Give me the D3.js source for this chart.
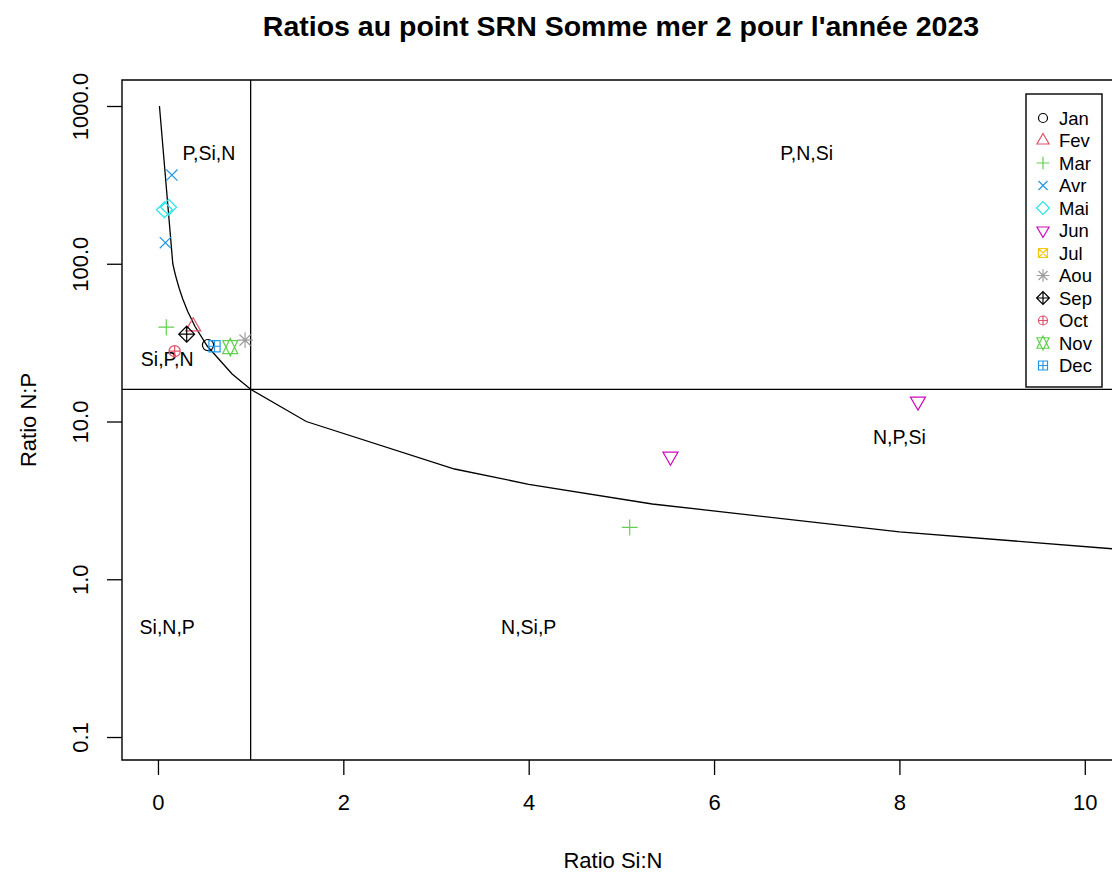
<!DOCTYPE html>
<html>
<head>
<meta charset="utf-8">
<script src="https://cdn.jsdelivr.net/npm/d3@7"></script>
<style>
  body { margin: 0; background: #fff; }
  text { font-family: "Liberation Sans", Arial, sans-serif; fill: #000; }
</style>
</head>
<body>
<svg id="chart" width="1112" height="873"></svg>
<script>
// months, R palette colours and pch codes (1..12)
var months = ["Jan","Fev","Mar","Avr","Mai","Jun","Jul","Aou","Sep","Oct","Nov","Dec"];
var monthColors = ["#000000","#DF536B","#61D04F","#2297E6","#28E2E5","#CD0BBC","#F5C710","#9E9E9E","#000000","#DF536B","#61D04F","#2297E6"];
var monthPch = [1,2,3,4,5,6,7,8,9,10,11,12];

var obsMonth = ["Jan","Fev","Mar","Mar","Avr","Avr","Mai","Mai","Jun","Jun","Aou","Sep","Oct","Nov","Dec"];
var obsSiN   = [0.54, 0.38, 0.09, 5.09, 0.15, 0.08, 0.07, 0.115, 5.53, 8.20, 0.94, 0.31, 0.18, 0.78, 0.61];
var obsNP    = [30.5, 40, 39.6, 2.13, 365, 136, 220, 228, 6.0, 13.4, 32.8, 35.8, 27.9, 29.6, 30];

// limit curve Si:N = 16 / N:P
var curveNP = [1000, 100, 90, 80, 70, 60, 50, 40, 30, 20, 16, 10, 5, 4, 3, 2, 1.5, 1];
var redfieldSiN = 1, redfieldNP = 16;

// zone labels
var zoneLabels = ["P,Si,N","P,N,Si","Si,P,N","N,P,Si","Si,N,P","N,Si,P"];
var zoneSiN = [0.55, 7, 0.1, 8, 0.1, 4];
var zoneNP  = [500, 500, 25, 8, 0.5, 0.5];

var xTicks = [0, 2, 4, 6, 8, 10];
var yTicks = [0.1, 1, 10, 100, 1000];

var plot = {left: 122, right: 1120, top: 80, bottom: 760};

var svg = d3.select("#chart");

var x = d3.scaleLinear().domain([-0.388, 10.38]).range([plot.left, plot.right]);
var y = d3.scaleLog().domain([0.0715, 1461.6]).range([plot.bottom, plot.top]);

svg.append("clipPath").attr("id", "clip")
  .append("rect")
  .attr("x", plot.left).attr("y", plot.top)
  .attr("width", plot.right - plot.left).attr("height", plot.bottom - plot.top);

// R pch symbols as paths, u = RADIUS * GSTR_0
function pchPath(pch, u) {
  var s2 = Math.SQRT2, p = d3.path();
  var TRC0 = Math.sqrt(4 * Math.PI / (3 * Math.sqrt(3)));
  var TRC1 = TRC0 * Math.sqrt(3) / 2, TRC2 = TRC0 / 2;
  function line(x0, y0, x1, y1) { p.moveTo(x0, y0); p.lineTo(x1, y1); }
  function tri(up, r, xc, yc) {
    var sgn = up ? -1 : 1;
    p.moveTo(0, sgn * r); p.lineTo(xc, -sgn * yc); p.lineTo(-xc, -sgn * yc); p.closePath();
  }
  var c;
  switch (pch) {
    case 1: p.arc(0, 0, u, 0, 2 * Math.PI); break;
    case 2: tri(true, TRC0 * u, TRC1 * u, TRC2 * u); break;
    case 3: c = s2 * u; line(-c, 0, c, 0); line(0, -c, 0, c); break;
    case 4: line(-u, -u, u, u); line(-u, u, u, -u); break;
    case 5: c = s2 * u; p.moveTo(-c, 0); p.lineTo(0, -c); p.lineTo(c, 0); p.lineTo(0, c); p.closePath(); break;
    case 6: tri(false, TRC0 * u, TRC1 * u, TRC2 * u); break;
    case 7: p.rect(-u, -u, 2 * u, 2 * u); line(-u, -u, u, u); line(-u, u, u, -u); break;
    case 8:
      line(-u, -u, u, u); line(-u, u, u, -u);
      c = s2 * u; line(-c, 0, c, 0); line(0, -c, 0, c); break;
    case 9:
      c = s2 * u; line(-c, 0, c, 0); line(0, -c, 0, c);
      p.moveTo(-c, 0); p.lineTo(0, -c); p.lineTo(c, 0); p.lineTo(0, c); p.closePath(); break;
    case 10: p.moveTo(u, 0); p.arc(0, 0, u, 0, 2 * Math.PI); line(-u, 0, u, 0); line(0, -u, 0, u); break;
    case 11:
      var r = TRC0 * u, yc = 0.5 * (TRC2 * u + r), xc = TRC1 * u;
      p.moveTo(0, -r); p.lineTo(xc, yc); p.lineTo(-xc, yc); p.closePath();
      p.moveTo(0, r); p.lineTo(xc, -yc); p.lineTo(-xc, -yc); p.closePath(); break;
    case 12: p.rect(-u, -u, 2 * u, 2 * u); line(-u, 0, u, 0); line(0, -u, 0, u); break;
  }
  return p.toString();
}

// reference lines
svg.append("line")
  .attr("x1", x(redfieldSiN)).attr("x2", x(redfieldSiN))
  .attr("y1", plot.top).attr("y2", plot.bottom)
  .attr("stroke", "#000").attr("stroke-width", 1.3);
svg.append("line")
  .attr("x1", plot.left).attr("x2", plot.right)
  .attr("y1", y(redfieldNP)).attr("y2", y(redfieldNP))
  .attr("stroke", "#000").attr("stroke-width", 1.3);

// curve
var curveLine = d3.line()
  .x(function (d) { return x(redfieldNP / d); })
  .y(function (d) { return y(d); });
svg.append("path")
  .datum(curveNP)
  .attr("clip-path", "url(#clip)")
  .attr("d", curveLine)
  .attr("fill", "none").attr("stroke", "#000").attr("stroke-width", 1.3);

// zone labels
svg.selectAll("text.zone")
  .data(zoneLabels).enter().append("text")
  .attr("class", "zone")
  .attr("x", function (d, i) { return x(zoneSiN[i]); })
  .attr("y", function (d, i) { return y(zoneNP[i]); })
  .attr("dy", "0.35em")
  .attr("text-anchor", "middle")
  .style("font-size", "19.5px")
  .text(function (d) { return d; });

// points
var obs = obsMonth.map(function (m, i) {
  return {k: months.indexOf(m), siN: obsSiN[i], nP: obsNP[i]};
});
svg.append("g").attr("clip-path", "url(#clip)")
  .selectAll("path").data(obs).enter().append("path")
  .attr("transform", function (d) { return "translate(" + x(d.siN) + "," + y(d.nP) + ")"; })
  .attr("d", function (d) { return pchPath(monthPch[d.k], 5.6); })
  .attr("fill", "none")
  .attr("stroke", function (d) { return monthColors[d.k]; })
  .attr("stroke-width", 1.2);

// box
svg.append("path")
  .attr("d", "M" + plot.right + "," + plot.top + "H" + plot.left + "V" + plot.bottom + "H" + plot.right)
  .attr("fill", "none").attr("stroke", "#000").attr("stroke-width", 1.4);

// axes
var xAxis = svg.append("g")
  .attr("transform", "translate(0," + plot.bottom + ")")
  .call(d3.axisBottom(x).tickValues(xTicks).tickSize(15).tickPadding(19).tickFormat(d3.format("d")));
xAxis.select(".domain").remove();
xAxis.selectAll("line").attr("stroke-width", 1.3);
xAxis.selectAll("text").style("font-size", "22px").attr("fill", "#000")
  .style("font-family", "'Liberation Sans', Arial, sans-serif");

var yAxis = svg.append("g")
  .attr("transform", "translate(" + plot.left + ",0)")
  .call(d3.axisLeft(y).tickValues(yTicks).tickSize(15).tickFormat(d3.format(".1f")));
yAxis.select(".domain").remove();
yAxis.selectAll("line").attr("stroke-width", 1.3);
yAxis.selectAll("text")
  .style("font-size", "22px").attr("fill", "#000")
  .style("font-family", "'Liberation Sans', Arial, sans-serif")
  .attr("text-anchor", "middle")
  .attr("dy", 0)
  .attr("x", 0).attr("y", 0)
  .attr("transform", "translate(-34,0) rotate(-90)");

// titles
svg.append("text")
  .attr("x", 621).attr("y", 36)
  .attr("text-anchor", "middle")
  .style("font-size", "28.5px").style("font-weight", "bold")
  .text("Ratios au point SRN Somme mer 2 pour l'année 2023");
svg.append("text")
  .attr("x", 613).attr("y", 868)
  .attr("text-anchor", "middle")
  .style("font-size", "22px")
  .text("Ratio Si:N");
svg.append("text")
  .attr("transform", "translate(36," + ((plot.top + plot.bottom) / 2) + ") rotate(-90)")
  .attr("text-anchor", "middle")
  .style("font-size", "22px")
  .text("Ratio N:P");

// legend
var legend = svg.append("g");
legend.append("rect")
  .attr("x", 1026).attr("y", 94).attr("width", 76).attr("height", 293)
  .attr("fill", "#fff").attr("stroke", "#000").attr("stroke-width", 1.4);
var rows = legend.selectAll("g.row").data(months).enter().append("g")
  .attr("transform", function (d, i) { return "translate(1043," + (118 + i * 22.5) + ")"; });
rows.append("path")
  .attr("d", function (d, i) { return pchPath(monthPch[i], 4.5); })
  .attr("fill", "none")
  .attr("stroke", function (d, i) { return monthColors[i]; })
  .attr("stroke-width", 1.2);
rows.append("text")
  .attr("x", 16).attr("dy", "0.36em")
  .style("font-size", "18.5px")
  .text(function (d) { return d; });
</script>
</body>
</html>
